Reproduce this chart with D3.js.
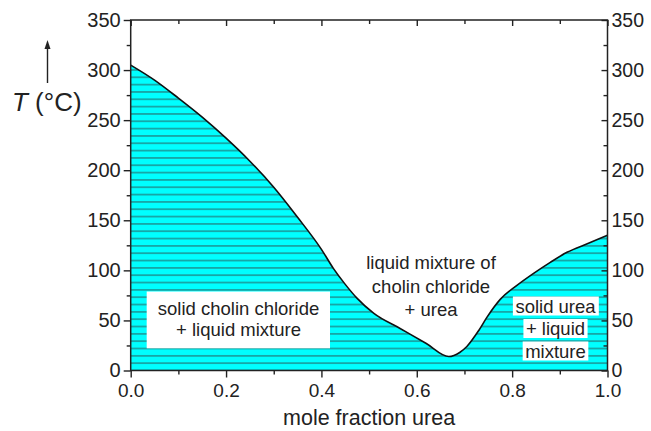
<!DOCTYPE html>
<html>
<head>
<meta charset="utf-8">
<script src="https://cdn.jsdelivr.net/npm/d3@7"></script>
<style>
  body { margin: 0; background: #fff; }
  svg { display: block; font-family: "Liberation Sans", Arial, sans-serif; }
</style>
</head>
<body>
<div id="chart"></div>
<script>
// liquidus curve
const moleFraction = [0.00, 0.05, 0.10, 0.15, 0.20, 0.25, 0.30, 0.35, 0.40, 0.425, 0.45, 0.475, 0.51, 0.565, 0.62, 0.667, 0.69, 0.705, 0.73, 0.747, 0.775, 0.81, 0.845, 0.88, 0.915, 0.96, 1.00];
const tempC        = [305, 290, 272, 253, 232, 209, 183, 153, 121, 102, 86, 72, 57, 42, 27, 14, 18, 24, 40, 53, 71, 85, 97, 108, 118, 127, 135];

const xTicks = [0, 0.2, 0.4, 0.6, 0.8, 1.0];
const xMinor = [0.1, 0.3, 0.5, 0.7, 0.9];
const yTicks = [0, 50, 100, 150, 200, 250, 300, 350];
const yMinor = [25, 75, 125, 175, 225, 275, 325];

const width = 651;
const height = 431;
const margin = { top: 20, right: 43.5, bottom: 60.5, left: 130.7 };

const svg = d3.select("#chart").append("svg")
  .attr("width", width)
  .attr("height", height);

const x = d3.scaleLinear().domain([0, 1]).range([margin.left, width - margin.right]);
const y = d3.scaleLinear().domain([0, 350]).range([height - margin.bottom, margin.top]);

const points = moleFraction.map((m, i) => ({ m, t: tempC[i] }));

// hatch pattern
const defs = svg.append("defs");
const hatchStep = 7.33;
const pat = defs.append("pattern")
  .attr("id", "hatch")
  .attr("patternUnits", "userSpaceOnUse")
  .attr("width", 20)
  .attr("height", hatchStep)
  .attr("y", y(0) - hatchStep / 2);
pat.append("rect").attr("width", 20).attr("height", hatchStep).attr("fill", "#00ffff");
pat.append("line")
  .attr("x1", 0).attr("x2", 20)
  .attr("y1", hatchStep / 2).attr("y2", hatchStep / 2)
  .attr("stroke", "#1a9a9a")
  .attr("stroke-width", 1.6);

const area = d3.area()
  .x(d => x(d.m))
  .y0(y(0))
  .y1(d => y(d.t))
  .curve(d3.curveMonotoneX);

const line = d3.line()
  .x(d => x(d.m))
  .y(d => y(d.t))
  .curve(d3.curveMonotoneX);

svg.append("path")
  .datum(points)
  .attr("d", area)
  .attr("fill", "url(#hatch)");

svg.append("path")
  .datum(points)
  .attr("d", line)
  .attr("fill", "none")
  .attr("stroke", "#111")
  .attr("stroke-width", 1.6);

// region labels
const textColor = "#222";
const fontSize = 18.5;

function boxedLines(cx, baselines, lines, pad, groupBoxes) {
  const g = svg.append("g");
  const texts = lines.map((t, i) => g.append("text")
    .attr("x", cx)
    .attr("y", baselines[i])
    .attr("text-anchor", "middle")
    .attr("font-size", fontSize)
    .attr("fill", textColor)
    .text(t));
  const boxes = texts.map(t => t.node().getBBox());
  groupBoxes.forEach(grp => {
    const bs = grp.map(i => boxes[i]);
    const x0 = d3.min(bs, b => b.x) - pad.x;
    const x1 = d3.max(bs, b => b.x + b.width) + pad.x;
    const y0 = d3.min(bs, b => b.y) - pad.top;
    const y1 = d3.max(bs, b => b.y + b.height) + pad.bottom;
    g.insert("rect", "text")
      .attr("x", x0).attr("y", y0)
      .attr("width", x1 - x0).attr("height", y1 - y0)
      .attr("fill", "#fff");
  });
}

// left box: one white box around both lines
svg.append("rect")
  .attr("x", 146.7).attr("y", 291.5)
  .attr("width", 183.3).attr("height", 56.8)
  .attr("fill", "#fff");
boxedLines(238.5, [315, 335.5], ["solid cholin chloride", "+ liquid mixture"], { x: 0, top: 0, bottom: 0 }, []);

// middle label, no box
boxedLines(431, [268.5, 292.5, 315.5], ["liquid mixture of", "cholin chloride", "+ urea"], { x: 0, top: 0, bottom: 0 }, []);

// right labels, box per line
boxedLines(555.5, [312.5, 335, 357.5], ["solid urea", "+ liquid", "mixture"], { x: 2.5, top: -1, bottom: -1 }, [[0], [1, 1], [2]]);

// axes
const axisColor = "#222";

function styleAxis(size) {
  return g => {
    g.select(".domain").remove();
    g.selectAll(".tick line").attr("stroke", axisColor).attr("stroke-width", 1.4);
    g.selectAll(".tick text").attr("fill", textColor).attr("font-size", size)
      .attr("font-family", "'Liberation Sans', Arial, sans-serif");
  };
}

// bottom
svg.append("g")
  .attr("transform", `translate(0,${y(0)})`)
  .call(d3.axisBottom(x).tickValues(xTicks).tickFormat(d3.format(".1f")).tickSize(7).tickPadding(6))
  .call(styleAxis(19));
svg.append("g")
  .attr("transform", `translate(0,${y(0)})`)
  .call(d3.axisBottom(x).tickValues(xMinor).tickFormat("").tickSize(4))
  .call(styleAxis(19));

// top (inward)
svg.append("g")
  .attr("transform", `translate(0,${y(350)})`)
  .call(d3.axisTop(x).tickValues(xTicks).tickFormat("").tickSize(-6))
  .call(styleAxis(19));
svg.append("g")
  .attr("transform", `translate(0,${y(350)})`)
  .call(d3.axisTop(x).tickValues(xMinor).tickFormat("").tickSize(-4))
  .call(styleAxis(19));

// left
svg.append("g")
  .attr("transform", `translate(${x(0)},0)`)
  .call(d3.axisLeft(y).tickValues(yTicks).tickSize(7).tickPadding(3))
  .call(styleAxis(20));
svg.append("g")
  .attr("transform", `translate(${x(0)},0)`)
  .call(d3.axisLeft(y).tickValues(yMinor).tickFormat("").tickSize(4))
  .call(styleAxis(20));

// right (ticks inward, labels outside)
svg.append("g")
  .attr("transform", `translate(${x(1)},0)`)
  .call(d3.axisRight(y).tickValues(yTicks).tickSize(-6).tickPadding(4))
  .call(styleAxis(19.5));
svg.append("g")
  .attr("transform", `translate(${x(1)},0)`)
  .call(d3.axisRight(y).tickValues(yMinor).tickFormat("").tickSize(-4))
  .call(styleAxis(19.5));

// frame
svg.append("rect")
  .attr("x", x(0)).attr("y", y(350))
  .attr("width", x(1) - x(0)).attr("height", y(0) - y(350))
  .attr("fill", "none")
  .attr("stroke", axisColor)
  .attr("stroke-width", 1.5);

// axis titles
svg.append("text")
  .attr("x", x(0.5))
  .attr("y", 425)
  .attr("text-anchor", "middle")
  .attr("font-size", 21.5)
  .attr("fill", textColor)
  .text("mole fraction urea");

const yTitle = svg.append("text")
  .attr("x", 12)
  .attr("y", 111)
  .attr("font-size", 26)
  .attr("fill", textColor);
yTitle.append("tspan").attr("font-style", "italic").text("T");
yTitle.append("tspan").text(" (°C)");

// arrow above the T
svg.append("line")
  .attr("x1", 47.5).attr("x2", 47.5)
  .attr("y1", 83).attr("y2", 47)
  .attr("stroke", "#222")
  .attr("stroke-width", 1.4);
svg.append("path")
  .attr("d", "M47.5,40 L44.5,49 L50.5,49 Z")
  .attr("fill", "#222");
</script>
</body>
</html>
